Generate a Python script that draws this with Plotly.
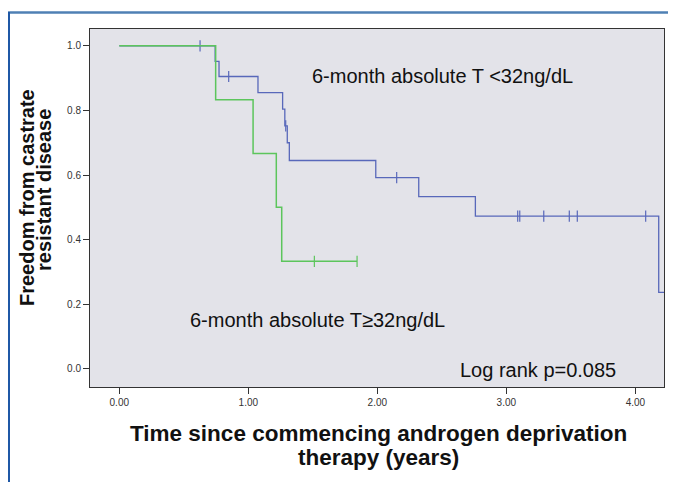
import numpy as np
import plotly.graph_objects as go

# Group: 6-month absolute T <32 ng/dL (blue)
low_times = [0.0, 0.743, 0.773, 1.075, 1.266, 1.283, 1.302, 1.318, 1.988, 2.321, 2.760, 4.181, 4.23]
low_surv = [1.0, 0.952, 0.905, 0.855, 0.804, 0.752, 0.700, 0.645, 0.592, 0.533, 0.473, 0.237, 0.237]
low_censor = [0.626, 0.848, 1.290, 2.150, 3.088, 3.104, 3.290, 3.488, 3.550, 4.080]

# Group: 6-month absolute T >=32 ng/dL (green)
high_times = [0.0, 0.747, 1.037, 1.217, 1.259, 1.843]
high_surv = [1.0, 0.833, 0.667, 0.500, 0.333, 0.333]
high_censor = [1.512, 1.843]

x_ticks = [0, 1, 2, 3, 4]
x_ticklabels = ["0.00", "1.00", "2.00", "3.00", "4.00"]
y_ticks = [0.0, 0.2, 0.4, 0.6, 0.8, 1.0]
y_ticklabels = ["0.0", "0.2", "0.4", "0.6", "0.8", "1.0"]

BLUE = "#5868ba"
GREEN = "#5cc55c"
FONT = "Liberation Sans, Arial, sans-serif"


def surv_at(times, surv, t):
    idx = np.searchsorted(np.array(times), t, side="right") - 1
    return surv[max(idx, 0)]


fig = go.Figure()
fig.add_trace(go.Scatter(x=low_times, y=low_surv, mode="lines", line_shape="hv",
                         line=dict(color=BLUE, width=1.3), showlegend=False, hoverinfo="skip"))
fig.add_trace(go.Scatter(x=low_censor, y=[surv_at(low_times, low_surv, t) for t in low_censor],
                         mode="markers", marker=dict(symbol="line-ns-open", size=8, color=BLUE,
                                                     line=dict(color=BLUE, width=1.2)),
                         showlegend=False))
fig.add_trace(go.Scatter(x=high_times, y=high_surv, mode="lines", line_shape="hv",
                         line=dict(color=GREEN, width=1.5), showlegend=False, hoverinfo="skip"))
fig.add_trace(go.Scatter(x=high_censor, y=[surv_at(high_times, high_surv, t) for t in high_censor],
                         mode="markers", marker=dict(symbol="line-ns-open", size=8, color=GREEN,
                                                     line=dict(color=GREEN, width=1.2)),
                         showlegend=False))

# page body offset of 8px: figure sized so the picture lines up with the reference
OFF = 8
W, H = 676 - OFF, 482 - OFF
L, R, T, B = 90 - OFF, 12, 29 - OFF, 95
pw, ph = W - L - R, H - T - B


def px_x(px):
    return (px - OFF - L) / pw


def px_y(py):
    return (H - B - (py - OFF)) / ph


fig.update_layout(
    width=W, height=H,
    margin=dict(l=L, r=R, t=T, b=B),
    paper_bgcolor="white",
    plot_bgcolor="#e3e3e9",
    font=dict(family=FONT, color="#222"),
    xaxis=dict(range=[-0.227, 4.222], tickvals=x_ticks, ticktext=x_ticklabels,
               showgrid=False, zeroline=False, ticks="outside", ticklen=6, tickcolor="#333",
               tickfont=dict(size=10, color="#333"), showline=True, linecolor="#333",
               linewidth=1, mirror=True),
    yaxis=dict(range=[-0.056, 1.052], tickvals=y_ticks, ticktext=y_ticklabels,
               showgrid=False, zeroline=False, ticks="outside", ticklen=6, tickcolor="#333",
               tickfont=dict(size=10, color="#333"), showline=True, linecolor="#333",
               linewidth=1, mirror=True),
)

# outer frame lines (blue)
fig.add_shape(type="line", xref="paper", yref="paper", x0=px_x(8), x1=px_x(680),
              y0=px_y(12.5), y1=px_y(12.5), line=dict(color="#4f80b4", width=2.5))
fig.add_shape(type="line", xref="paper", yref="paper", x0=px_x(9), x1=px_x(9),
              y0=px_y(12), y1=px_y(490), line=dict(color="#1f58a6", width=2))


def note(text, x, y, size, bold=False, angle=0):
    fig.add_annotation(x=px_x(x), y=px_y(y), xref="paper", yref="paper",
                       xanchor="center", yanchor="middle",
                       text=f"<b>{text}</b>" if bold else text, showarrow=False,
                       textangle=angle, font=dict(size=size, color="#111", family=FONT))


note("6-month absolute T <32ng/dL", 442, 76, 20)
note("6-month absolute T≥32ng/dL", 317, 320, 20)
note("Log rank p=0.085", 538, 370, 20)
note("Time since commencing androgen deprivation", 378, 433, 22.5, bold=True)
note("therapy (years)", 378, 457, 22.5, bold=True)
note("Freedom from castrate", 27, 198, 20, bold=True, angle=-90)
note("resistant disease", 44, 190, 20, bold=True, angle=-90)

fig.write_html("out.html")
